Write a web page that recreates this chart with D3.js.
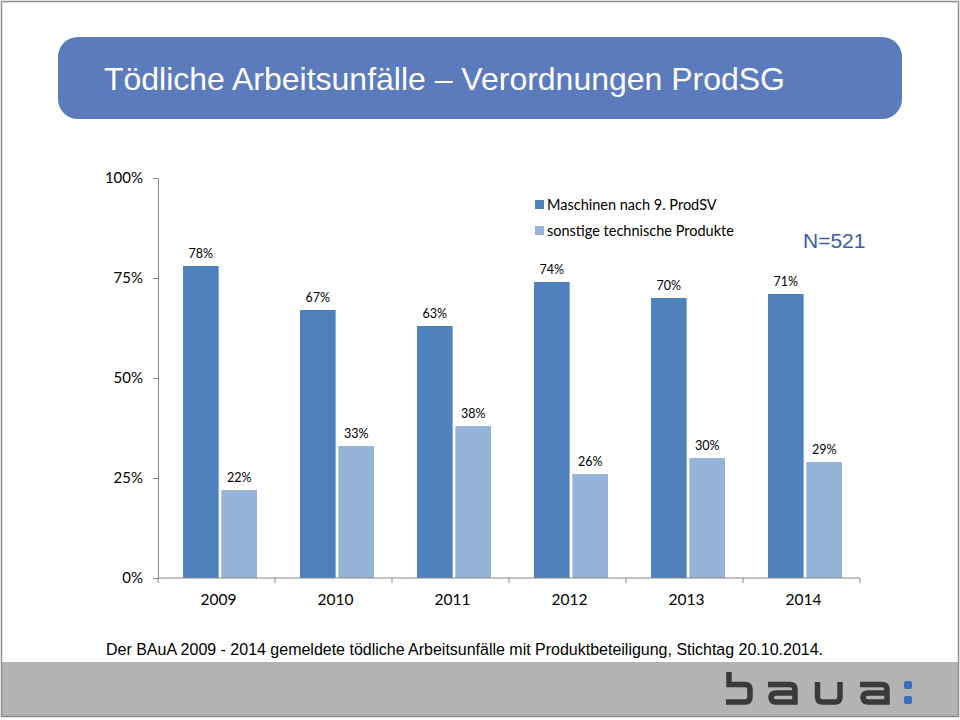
<!DOCTYPE html>
<html>
<head>
<meta charset="utf-8">
<script src="https://cdn.jsdelivr.net/npm/d3@7"></script>
<style>
  html, body { margin: 0; padding: 0; background: #fff; }
  svg { display: block; }
</style>
</head>
<body>
<script>
// ---- data ----
const years = ["2009", "2010", "2011", "2012", "2013", "2014"];
const maschinen = [78, 67, 63, 74, 70, 71];
const sonstige = [22, 33, 38, 26, 30, 29];
const seriesNames = ["Maschinen nach 9. ProdSV", "sonstige technische Produkte"];
const yTicks = [0, 25, 50, 75, 100];
const titleText = "Tödliche Arbeitsunfälle – Verordnungen ProdSG";
const footnote = "Der BAuA 2009 - 2014 gemeldete tödliche Arbeitsunfälle mit Produktbeteiligung, Stichtag 20.10.2014.";
const nText = "N=521";

const W = 960, H = 720;
const colors = ["#4f81bd", "#95b3d7"];
const labelFont = "Lato, 'Open Sans', sans-serif";
const narrowFont = "'Liberation Sans Narrow', 'Liberation Sans', Arial, sans-serif";

const svg = d3.select("body").append("svg").attr("width", W).attr("height", H);

// page frame
svg.append("rect").attr("x", 0).attr("y", 0).attr("width", W).attr("height", H).attr("fill", "#fff");
svg.append("rect").attr("x", 2).attr("y", 662).attr("width", 956).attr("height", 54).attr("fill", "#b3b3b3");
svg.append("rect").attr("x", 1.5).attr("y", 1.5).attr("width", 957).attr("height", 715)
  .attr("fill", "none").attr("stroke", "#8f8f8f").attr("stroke-width", 1.5);

// title box
svg.append("rect").attr("x", 58).attr("y", 37).attr("width", 844).attr("height", 82)
  .attr("rx", 20).attr("ry", 20).attr("fill", "#5b7bbc");
svg.append("text").attr("x", 104).attr("y", 90)
  .attr("font-family", narrowFont).attr("font-size", 32)
  .attr("fill", "#fff").attr("textLength", 681).attr("lengthAdjust", "spacingAndGlyphs")
  .text(titleText);

// chart
const x0 = 158, x1 = 860, yTop = 178, yBot = 578;
const x = d3.scaleBand().domain(years).range([x0, x1]).paddingInner(0).paddingOuter(0);
const xs = d3.scaleBand().domain([0, 1]).range([25, 99]).paddingInner(0.07);
const y = d3.scaleLinear().domain([0, 100]).range([yBot, yTop]);

// y axis
const yAxis = svg.append("g").attr("transform", `translate(${x0},0)`)
  .call(d3.axisLeft(y).tickValues(yTicks).tickFormat(d => d + "%").tickSize(5).tickPadding(6));
yAxis.select(".domain").attr("stroke", "#868686");
yAxis.selectAll(".tick line").attr("stroke", "#868686");
yAxis.selectAll(".tick text").attr("font-family", labelFont).attr("font-size", 15).attr("fill", "#000")
  .attr("dx", -4);

// bars
const data = years.map((yr, i) => ({ yr, vals: [maschinen[i], sonstige[i]] }));
const groups = svg.append("g").selectAll("g").data(data).join("g")
  .attr("transform", d => `translate(${x(d.yr)},0)`);
groups.selectAll("rect").data(d => d.vals.map((v, k) => ({ v, k }))).join("rect")
  .attr("x", d => xs(d.k)).attr("width", xs.bandwidth())
  .attr("y", d => y(d.v)).attr("height", d => yBot - y(d.v))
  .attr("fill", d => colors[d.k]);
groups.selectAll("text").data(d => d.vals.map((v, k) => ({ v, k }))).join("text")
  .attr("x", d => xs(d.k) + xs.bandwidth() / 2).attr("y", d => y(d.v) - 8)
  .attr("text-anchor", "middle").attr("font-family", labelFont).attr("font-size", 12.5)
  .attr("fill", "#000").text(d => d.v + "%");

// x axis
const xAxisG = svg.append("g");
xAxisG.append("line").attr("x1", x0).attr("x2", x1).attr("y1", yBot).attr("y2", yBot)
  .attr("stroke", "#868686");
const boundaries = years.map(yr => x(yr)).concat([x1]);
xAxisG.selectAll("line.tk").data(boundaries).join("line").attr("class", "tk")
  .attr("x1", d => d).attr("x2", d => d).attr("y1", yBot).attr("y2", yBot + 5).attr("stroke", "#868686");
xAxisG.selectAll("text").data(years).join("text")
  .attr("x", d => x(d) + x.bandwidth() / 2 + 2).attr("y", 605)
  .attr("text-anchor", "middle").attr("font-family", labelFont).attr("font-size", 15.5)
  .attr("fill", "#000").text(d => d);

// legend
const leg = svg.append("g").attr("transform", "translate(535,200)");
seriesNames.forEach((name, i) => {
  leg.append("rect").attr("x", 0).attr("y", i * 26).attr("width", 9).attr("height", 9).attr("fill", colors[i]);
  leg.append("text").attr("x", 12).attr("y", i * 26 + 10).attr("font-family", labelFont)
    .attr("font-size", 14.5).attr("fill", "#000").text(name);
});

// N label
svg.append("text").attr("x", 803).attr("y", 248)
  .attr("font-family", "'Liberation Sans', Arial, sans-serif").attr("font-size", 21)
  .attr("fill", "#3b5ca6").text(nText);

// footnote
svg.append("text").attr("x", 106).attr("y", 655)
  .attr("font-family", narrowFont).attr("font-size", 16)
  .attr("fill", "#000").attr("textLength", 717).attr("lengthAdjust", "spacingAndGlyphs")
  .text(footnote);

// logo "baua:"
const logo = svg.append("g").attr("fill", "none").attr("stroke", "#3a3a3a").attr("stroke-width", 5.5);
logo.append("path").attr("d", "M729,672 V684.5 H745 Q750,684.5 750,689.5 V697 Q750,702 745,702 H726");
logo.append("path").attr("d", "M768,684.5 H790 Q795,684.5 795,689.5 V702 H776 Q771,702 771,697 V698 Q771,693 776,693 H795");
logo.append("path").attr("d", "M817.5,682 V697 Q817.5,702 822.5,702 H835 Q840,702 840,697 V682");
logo.append("path").attr("d", "M860,684.5 H882 Q887,684.5 887,689.5 V702 H868 Q863,702 863,697 V698 Q863,693 868,693 H887");
svg.append("rect").attr("x", 904).attr("y", 681).attr("width", 8).attr("height", 8).attr("rx", 2).attr("fill", "#3a6cc0");
svg.append("rect").attr("x", 904).attr("y", 696).attr("width", 8).attr("height", 8).attr("rx", 2).attr("fill", "#3a6cc0");
</script>
</body>
</html>
